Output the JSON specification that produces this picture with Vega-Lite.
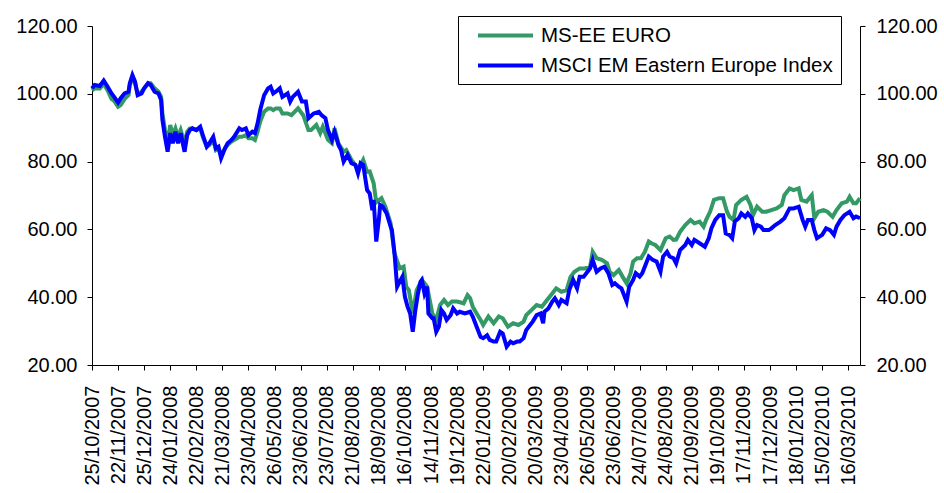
{
  "$schema": "https://vega.github.io/schema/vega-lite/v6.json",
  "width": 768,
  "height": 339,
  "autosize": {"type": "none"},
  "padding": {"left": 92, "top": 26, "right": 84, "bottom": 128},
  "background": "white",
  "config": {
    "view": {"stroke": null},
    "font": "Liberation Sans",
    "axis": {"domainColor": "black", "tickColor": "black", "labelColor": "black", "domainWidth": 1, "tickWidth": 1, "grid": false, "labelFont": "Liberation Sans", "labelFontSize": 20}
  },
  "datasets": {
    "euro": [{"d":0,"v":101.0},{"d":2,"v":101.6},{"d":6,"v":101.6},{"d":9,"v":103.0},{"d":12,"v":101.0},{"d":15,"v":98.5},{"d":17,"v":97.9},{"d":20,"v":96.2},{"d":22,"v":96.7},{"d":25,"v":98.5},{"d":28,"v":99.6},{"d":29,"v":102.6},{"d":31,"v":104.6},{"d":33,"v":103.1},{"d":35,"v":100.1},{"d":38,"v":100.6},{"d":40,"v":101.6},{"d":43,"v":103.1},{"d":45,"v":103.1},{"d":48,"v":101.6},{"d":51,"v":100.6},{"d":53,"v":99.1},{"d":54,"v":94.2},{"d":56,"v":89.3},{"d":58,"v":85.4},{"d":60,"v":90.8},{"d":62,"v":87.8},{"d":64,"v":89.8},{"d":66,"v":87.3},{"d":68,"v":89.3},{"d":71,"v":85.4},{"d":73,"v":88.8},{"d":75,"v":89.8},{"d":77,"v":89.8},{"d":80,"v":89.3},{"d":83,"v":89.8},{"d":85,"v":87.3},{"d":88,"v":84.4},{"d":90,"v":84.9},{"d":93,"v":86.4},{"d":95,"v":83.4},{"d":97,"v":83.9},{"d":99,"v":82.0},{"d":102,"v":83.9},{"d":104,"v":84.9},{"d":107,"v":85.9},{"d":109,"v":86.4},{"d":113,"v":87.3},{"d":115,"v":87.3},{"d":118,"v":87.8},{"d":120,"v":86.9},{"d":123,"v":86.9},{"d":125,"v":86.4},{"d":127,"v":88.8},{"d":129,"v":91.8},{"d":132,"v":94.7},{"d":135,"v":95.7},{"d":137,"v":95.7},{"d":139,"v":95.2},{"d":141,"v":95.7},{"d":144,"v":95.7},{"d":146,"v":94.2},{"d":150,"v":94.2},{"d":153,"v":93.7},{"d":158,"v":95.7},{"d":162,"v":93.7},{"d":166,"v":89.3},{"d":168,"v":89.3},{"d":172,"v":90.8},{"d":175,"v":88.4},{"d":177,"v":90.3},{"d":181,"v":86.4},{"d":184,"v":85.4},{"d":186,"v":89.8},{"d":189,"v":85.4},{"d":193,"v":82.9},{"d":195,"v":83.4},{"d":199,"v":80.5},{"d":202,"v":79.0},{"d":204,"v":77.5},{"d":208,"v":80.5},{"d":211,"v":77.0},{"d":213,"v":77.1},{"d":216,"v":73.6},{"d":218,"v":68.0},{"d":222,"v":69.2},{"d":225,"v":66.7},{"d":229,"v":61.8},{"d":232,"v":52.9},{"d":236,"v":48.5},{"d":239,"v":49.0},{"d":241,"v":43.1},{"d":243,"v":42.1},{"d":246,"v":35.2},{"d":249,"v":42.1},{"d":253,"v":45.1},{"d":257,"v":43.1},{"d":261,"v":35.2},{"d":264,"v":33.3},{"d":267,"v":37.7},{"d":270,"v":39.2},{"d":273,"v":37.7},{"d":276,"v":38.7},{"d":280,"v":38.7},{"d":285,"v":38.2},{"d":288,"v":40.6},{"d":290,"v":39.7},{"d":292,"v":37.2},{"d":295,"v":35.2},{"d":298,"v":33.3},{"d":300,"v":31.8},{"d":304,"v":34.3},{"d":308,"v":32.3},{"d":312,"v":34.3},{"d":315,"v":33.8},{"d":319,"v":31.3},{"d":323,"v":32.3},{"d":327,"v":31.8},{"d":331,"v":32.8},{"d":333,"v":34.7},{"d":337,"v":36.2},{"d":341,"v":37.7},{"d":345,"v":37.2},{"d":349,"v":39.2},{"d":353,"v":41.1},{"d":356,"v":42.6},{"d":360,"v":41.6},{"d":364,"v":42.1},{"d":367,"v":46.0},{"d":370,"v":47.5},{"d":374,"v":48.5},{"d":378,"v":48.5},{"d":382,"v":49.0},{"d":384,"v":53.4},{"d":387,"v":51.5},{"d":391,"v":51.0},{"d":395,"v":50.0},{"d":397,"v":47.5},{"d":400,"v":46.5},{"d":404,"v":48.0},{"d":407,"v":46.0},{"d":410,"v":44.1},{"d":413,"v":47.0},{"d":415,"v":50.5},{"d":418,"v":51.5},{"d":421,"v":51.5},{"d":424,"v":53.4},{"d":427,"v":56.4},{"d":429,"v":55.9},{"d":432,"v":55.4},{"d":436,"v":53.9},{"d":440,"v":57.4},{"d":443,"v":57.9},{"d":446,"v":56.9},{"d":448,"v":57.0},{"d":451,"v":59.3},{"d":455,"v":61.3},{"d":459,"v":62.8},{"d":462,"v":61.8},{"d":466,"v":62.3},{"d":469,"v":60.8},{"d":471,"v":62.8},{"d":474,"v":65.2},{"d":477,"v":68.7},{"d":481,"v":69.2},{"d":484,"v":69.2},{"d":487,"v":65.2},{"d":489,"v":63.7},{"d":492,"v":62.8},{"d":494,"v":67.2},{"d":498,"v":68.7},{"d":502,"v":69.6},{"d":505,"v":67.2},{"d":507,"v":64.2},{"d":510,"v":66.7},{"d":514,"v":65.2},{"d":517,"v":65.2},{"d":521,"v":65.7},{"d":525,"v":66.2},{"d":529,"v":67.2},{"d":531,"v":70.1},{"d":535,"v":72.1},{"d":538,"v":71.6},{"d":542,"v":72.1},{"d":544,"v":68.7},{"d":548,"v":68.2},{"d":552,"v":70.1},{"d":554,"v":63.3},{"d":557,"v":65.2},{"d":561,"v":65.7},{"d":564,"v":65.2},{"d":568,"v":63.7},{"d":571,"v":65.7},{"d":575,"v":67.7},{"d":579,"v":68.2},{"d":581,"v":69.6},{"d":584,"v":67.7},{"d":586,"v":67.7},{"d":589,"v":69.2}],
    "msci": [{"d":0,"v":101.6},{"d":2,"v":102.6},{"d":6,"v":102.3},{"d":9,"v":103.9},{"d":12,"v":102.1},{"d":15,"v":100.1},{"d":17,"v":99.1},{"d":20,"v":97.4},{"d":22,"v":98.7},{"d":25,"v":100.1},{"d":28,"v":100.6},{"d":29,"v":103.1},{"d":31,"v":105.5},{"d":33,"v":103.6},{"d":35,"v":99.6},{"d":38,"v":100.1},{"d":40,"v":101.6},{"d":43,"v":103.1},{"d":45,"v":102.6},{"d":48,"v":100.6},{"d":51,"v":100.1},{"d":53,"v":98.2},{"d":54,"v":92.3},{"d":56,"v":87.3},{"d":58,"v":82.9},{"d":60,"v":88.4},{"d":62,"v":85.4},{"d":64,"v":88.8},{"d":66,"v":85.4},{"d":68,"v":88.4},{"d":71,"v":82.9},{"d":73,"v":87.8},{"d":75,"v":89.3},{"d":77,"v":89.8},{"d":80,"v":89.3},{"d":83,"v":90.3},{"d":85,"v":87.8},{"d":88,"v":84.4},{"d":90,"v":85.4},{"d":93,"v":87.3},{"d":95,"v":83.9},{"d":97,"v":84.4},{"d":99,"v":81.0},{"d":102,"v":83.9},{"d":104,"v":85.4},{"d":107,"v":86.4},{"d":109,"v":87.3},{"d":113,"v":89.8},{"d":115,"v":89.3},{"d":118,"v":89.8},{"d":120,"v":87.8},{"d":123,"v":88.8},{"d":125,"v":88.4},{"d":127,"v":91.3},{"d":129,"v":95.2},{"d":132,"v":99.6},{"d":135,"v":101.6},{"d":137,"v":102.1},{"d":139,"v":100.1},{"d":141,"v":100.6},{"d":144,"v":101.6},{"d":146,"v":99.1},{"d":150,"v":100.1},{"d":152,"v":97.7},{"d":154,"v":99.1},{"d":158,"v":100.6},{"d":161,"v":97.7},{"d":164,"v":97.7},{"d":166,"v":92.8},{"d":170,"v":94.2},{"d":174,"v":94.7},{"d":176,"v":93.7},{"d":179,"v":92.8},{"d":181,"v":89.3},{"d":184,"v":86.4},{"d":186,"v":88.8},{"d":189,"v":84.9},{"d":191,"v":83.4},{"d":193,"v":80.0},{"d":196,"v":82.0},{"d":199,"v":79.5},{"d":202,"v":79.0},{"d":204,"v":76.5},{"d":206,"v":79.5},{"d":208,"v":79.0},{"d":211,"v":71.6},{"d":213,"v":70.6},{"d":215,"v":65.7},{"d":216,"v":68.7},{"d":218,"v":56.4},{"d":220,"v":62.8},{"d":221,"v":67.2},{"d":223,"v":66.7},{"d":226,"v":64.7},{"d":229,"v":60.8},{"d":230,"v":59.8},{"d":232,"v":52.9},{"d":234,"v":43.1},{"d":236,"v":44.6},{"d":238,"v":46.0},{"d":240,"v":40.1},{"d":242,"v":37.2},{"d":244,"v":35.2},{"d":246,"v":29.8},{"d":248,"v":36.2},{"d":250,"v":41.1},{"d":252,"v":44.6},{"d":253,"v":45.1},{"d":255,"v":41.1},{"d":257,"v":43.1},{"d":258,"v":35.2},{"d":261,"v":33.8},{"d":262,"v":33.8},{"d":264,"v":29.8},{"d":266,"v":31.3},{"d":268,"v":36.2},{"d":270,"v":35.2},{"d":272,"v":33.3},{"d":275,"v":34.7},{"d":277,"v":36.7},{"d":280,"v":35.2},{"d":282,"v":35.7},{"d":286,"v":35.2},{"d":290,"v":35.7},{"d":292,"v":34.3},{"d":295,"v":31.3},{"d":298,"v":28.3},{"d":300,"v":27.9},{"d":303,"v":28.8},{"d":305,"v":27.4},{"d":308,"v":26.9},{"d":310,"v":26.9},{"d":313,"v":29.8},{"d":315,"v":29.3},{"d":318,"v":25.4},{"d":321,"v":26.9},{"d":323,"v":26.4},{"d":326,"v":26.9},{"d":328,"v":26.9},{"d":331,"v":27.9},{"d":333,"v":30.3},{"d":336,"v":31.8},{"d":338,"v":32.8},{"d":341,"v":34.7},{"d":344,"v":35.2},{"d":346,"v":32.3},{"d":347,"v":35.7},{"d":350,"v":36.7},{"d":353,"v":38.7},{"d":355,"v":39.7},{"d":358,"v":37.7},{"d":360,"v":39.2},{"d":364,"v":38.2},{"d":366,"v":42.1},{"d":369,"v":45.1},{"d":372,"v":42.6},{"d":374,"v":46.0},{"d":377,"v":46.0},{"d":380,"v":47.5},{"d":382,"v":48.5},{"d":384,"v":51.0},{"d":387,"v":47.5},{"d":390,"v":48.5},{"d":393,"v":49.0},{"d":396,"v":47.1},{"d":399,"v":43.6},{"d":401,"v":44.1},{"d":404,"v":43.1},{"d":406,"v":42.6},{"d":410,"v":38.7},{"d":412,"v":43.1},{"d":415,"v":45.1},{"d":417,"v":47.1},{"d":420,"v":46.1},{"d":422,"v":47.1},{"d":425,"v":50.0},{"d":427,"v":52.0},{"d":430,"v":51.0},{"d":433,"v":50.5},{"d":436,"v":47.5},{"d":438,"v":52.0},{"d":441,"v":53.4},{"d":443,"v":52.0},{"d":446,"v":51.5},{"d":448,"v":50.0},{"d":451,"v":53.9},{"d":455,"v":55.4},{"d":457,"v":56.9},{"d":460,"v":55.4},{"d":462,"v":56.9},{"d":466,"v":55.9},{"d":470,"v":54.9},{"d":473,"v":57.4},{"d":475,"v":60.3},{"d":478,"v":62.8},{"d":481,"v":64.2},{"d":484,"v":64.2},{"d":486,"v":58.8},{"d":489,"v":58.3},{"d":491,"v":57.4},{"d":493,"v":62.3},{"d":496,"v":63.3},{"d":498,"v":64.7},{"d":501,"v":63.7},{"d":503,"v":64.7},{"d":506,"v":63.3},{"d":508,"v":59.8},{"d":510,"v":61.3},{"d":513,"v":60.8},{"d":515,"v":59.8},{"d":519,"v":59.8},{"d":521,"v":60.3},{"d":524,"v":61.3},{"d":528,"v":62.3},{"d":531,"v":63.3},{"d":535,"v":66.2},{"d":538,"v":66.2},{"d":542,"v":66.7},{"d":545,"v":62.8},{"d":547,"v":60.8},{"d":549,"v":62.8},{"d":552,"v":62.8},{"d":554,"v":59.8},{"d":556,"v":57.4},{"d":560,"v":58.4},{"d":563,"v":60.3},{"d":566,"v":59.8},{"d":569,"v":58.4},{"d":571,"v":60.8},{"d":574,"v":62.8},{"d":577,"v":64.2},{"d":581,"v":65.2},{"d":584,"v":63.3},{"d":586,"v":63.8},{"d":589,"v":63.3}]
  },
  "encoding": {
    "x": {
      "field": "d",
      "type": "quantitative",
      "scale": {"domain": [0, 589], "nice": false, "zero": false},
      "axis": {
        "title": null,
        "values": [0,20,40,60,80,100,120,140,160,180,200,220,240,260,280,300,320,340,360,380,400,420,440,460,480,500,520,540,560,580],
        "labelExpr": "['25/10/2007','22/11/2007','25/12/2007','24/01/2008','22/02/2008','21/03/2008','23/04/2008','26/05/2008','23/06/2008','23/07/2008','21/08/2008','18/09/2008','16/10/2008','14/11/2008','19/12/2008','22/01/2009','20/02/2009','20/03/2009','23/04/2009','26/05/2009','23/06/2009','24/07/2009','24/08/2009','21/09/2009','19/10/2009','17/11/2009','17/12/2009','18/01/2010','15/02/2010','16/03/2010'][round(datum.value / 20)]",
        "labelAngle": -90,
        "labelAlign": "right",
        "labelBaseline": "middle",
        "labelPadding": 15,
        "tickSize": 5,
        "labelOverlap": false,
        "labelFlush": false,
        "labelFontSize": 20
      }
    }
  },
  "layer": [
    {
      "data": {"name": "euro"},
      "mark": {"type": "line", "strokeWidth": 4, "interpolate": "linear"},
      "encoding": {
        "y": {
          "field": "v", "type": "quantitative",
          "scale": {"domain": [20, 120], "nice": false, "zero": false},
          "axis": {"orient": "left", "title": null, "values": [20,40,60,80,100,120], "format": ".2f", "tickSize": 5, "labelPadding": 10, "labelFontSize": 20}
        },
        "color": {
          "datum": "MS-EE EURO", "type": "nominal",
          "scale": {"domain": ["MS-EE EURO", "MSCI EM Eastern Europe Index"], "range": ["#339966", "#0000FF"]},
          "legend": {
            "orient": "none", "legendX": 366, "legendY": -10, "title": null,
            "symbolType": "M-2.75,0L2.75,0", "symbolSize": 400, "symbolStrokeWidth": 4,
            "labelFontSize": 20.5, "labelFont": "Liberation Sans", "labelColor": "black", "labelLimit": 0,
            "strokeColor": "black", "fillColor": "white", "padding": 7.5, "rowPadding": 7,
            "labelOffset": 23.5, "symbolOffset": 28
          }
        }
      }
    },
    {
      "data": {"name": "msci"},
      "mark": {"type": "line", "strokeWidth": 4, "interpolate": "linear"},
      "encoding": {
        "y": {
          "field": "v", "type": "quantitative",
          "scale": {"domain": [20, 120], "nice": false, "zero": false},
          "axis": {"orient": "right", "title": null, "values": [20,40,60,80,100,120], "format": ".2f", "tickSize": 5, "labelPadding": 11, "labelFontSize": 20}
        },
        "color": {"datum": "MSCI EM Eastern Europe Index", "type": "nominal"}
      }
    }
  ],
  "resolve": {"axis": {"y": "independent"}}
}
